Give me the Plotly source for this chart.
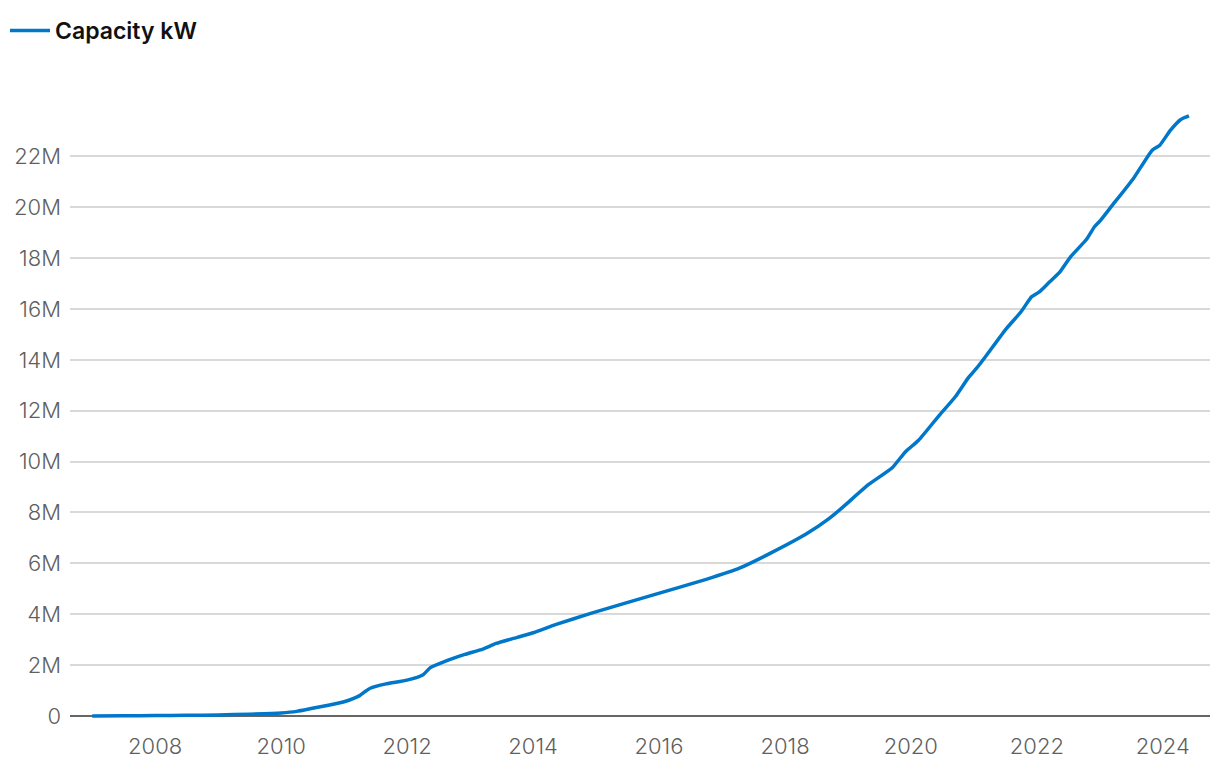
import plotly.graph_objects as go

dates = [
    "2007-01-01", "2007-07-01", "2008-01-01", "2008-07-01", "2009-01-01", "2009-07-01",
    "2010-01-01", "2010-04-01", "2010-07-01", "2010-10-01", "2011-01-01", "2011-04-01",
    "2011-05-01", "2011-06-01", "2011-09-01", "2012-01-01", "2012-04-01", "2012-05-15",
    "2012-08-01", "2012-12-01", "2013-03-15", "2013-06-01", "2013-10-01", "2014-01-01",
    "2014-05-15", "2014-12-01", "2015-11-15", "2016-10-01", "2017-04-15", "2017-10-15",
    "2018-05-01", "2018-09-15", "2018-12-01", "2019-05-01", "2019-09-15", "2019-12-01",
    "2020-02-15", "2020-06-15", "2020-09-15", "2020-12-01", "2021-01-15", "2021-03-15",
    "2021-07-01", "2021-10-01", "2021-12-01", "2022-01-15", "2022-03-15", "2022-05-15",
    "2022-07-15", "2022-10-15", "2022-12-01", "2023-01-01", "2023-03-15", "2023-07-15",
    "2023-11-01", "2023-12-15", "2024-02-15", "2024-04-15", "2024-06-01",
]
capacity_kw = [
    0.0e6, 0.005e6, 0.015e6, 0.025e6, 0.04e6, 0.07e6,
    0.12e6, 0.18e6, 0.30e6, 0.42e6, 0.56e6, 0.80e6,
    0.95e6, 1.09e6, 1.26e6, 1.41e6, 1.61e6, 1.90e6,
    2.13e6, 2.42e6, 2.63e6, 2.85e6, 3.09e6, 3.27e6,
    3.60e6, 4.03e6, 4.73e6, 5.37e6, 5.82e6, 6.42e6,
    7.14e6, 7.77e6, 8.20e6, 9.10e6, 9.76e6, 10.39e6,
    10.84e6, 11.83e6, 12.55e6, 13.31e6, 13.66e6, 14.18e6,
    15.17e6, 15.89e6, 16.48e6, 16.67e6, 17.06e6, 17.46e6,
    18.05e6, 18.73e6, 19.23e6, 19.45e6, 20.08e6, 21.13e6,
    22.24e6, 22.44e6, 23.03e6, 23.45e6, 23.59e6,
]
y_tickvals = [0, 2e6, 4e6, 6e6, 8e6, 10e6, 12e6, 14e6, 16e6, 18e6, 20e6, 22e6]
y_ticktext = ["0", "2M", "4M", "6M", "8M", "10M", "12M", "14M", "16M", "18M", "20M", "22M"]

fig = go.Figure()
fig.add_trace(go.Scatter(
    x=dates, y=capacity_kw, mode="lines", name="Capacity kW",
    line=dict(color="#0077c8", width=3.5, shape="spline", smoothing=0.5),
))

tick_font = dict(family="Inter, Roboto, sans-serif", size=22, color="#5f5f5f", weight=300)

fig.update_layout(
    width=1220, height=762,
    margin=dict(l=70, r=10, t=108, b=44),
    paper_bgcolor="white", plot_bgcolor="white",
    font=dict(family="Inter, Roboto, sans-serif", color="#5f5f5f", size=22),
    showlegend=True,
    legend=dict(
        orientation="h", x=5 / 1220, xref="container", xanchor="left",
        y=1 - 9 / 762, yref="container", yanchor="top",
        itemwidth=40,
        font=dict(family="Inter, sans-serif", size=23, color="#111111", weight=600),
    ),
    xaxis=dict(
        type="date", range=["2006-08-25", "2024-10-01"],
        tick0="2008-01-01", dtick="M24", tickformat="%Y",
        showgrid=False, zeroline=False, showline=False, ticks="",
        ticklabelstandoff=13, automargin=False,
        tickfont=tick_font,
    ),
    yaxis=dict(
        range=[-0.08e6, 23.9e6], tickvals=y_tickvals, ticktext=y_ticktext,
        showgrid=True, gridcolor="#d9d9d9", gridwidth=1.5,
        zeroline=True, zerolinecolor="#666666", zerolinewidth=2,
        ticks="", ticklabelstandoff=8, automargin=False,
        tickfont=tick_font,
    ),
)

fig.write_html("out.html", config={"displayModeBar": False},
               post_script="document.body.style.margin='0px';")
